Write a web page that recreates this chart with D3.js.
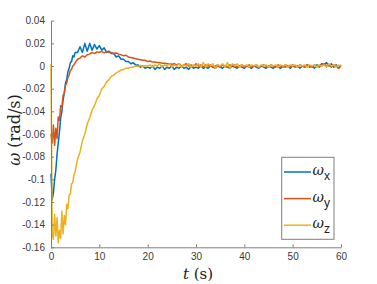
<!DOCTYPE html>
<html>
<head>
<meta charset="utf-8">
<script src="https://cdn.jsdelivr.net/npm/d3@7"></script>
<style>
  body { margin: 0; background: #fff; }
  svg { display: block; }
</style>
</head>
<body>
<div id="chart"></div>
<script>
// sample times: 0.25 s steps for the first 5 s, then 0.5 s steps
const time = d3.range(0, 5, 0.25).concat(d3.range(5, 60.001, 0.5))

const omegaX = [
  -0.095, -0.118, -0.112, -0.100, -0.092, -0.078, -0.068, -0.058, -0.046, -0.040,
  -0.030, -0.024, -0.015, -0.012, -0.005, -0.002, 0.003, 0.004, 0.009, 0.008,
  0.012, 0.012, 0.017, 0.012, 0.020, 0.013, 0.020, 0.014, 0.019, 0.015,
  0.018, 0.014, 0.016, 0.012, 0.013, 0.011, 0.011, 0.008, 0.009, 0.006,
  0.006, 0.004, 0.004, 0.002, 0.003, 0.001, 0.001, -0.001, 0.000, -0.002, -0.001,
  -0.002, 0.000, -0.003, -0.001, -0.002, 0.000, -0.003, -0.001, -0.002, 0.000,
  -0.003, -0.001, -0.002, 0.000, -0.002, -0.001, -0.003, 0.000, -0.002, -0.001,
  -0.002, 0.000, -0.002, -0.001, -0.002, 0.000, -0.001, -0.002, 0.000, -0.001,
  -0.002, 0.000, -0.001, -0.002, 0.000, -0.001, -0.002, 0.000, -0.001, -0.002,
  0.000, -0.001, -0.002, 0.000, -0.001, -0.002, 0.000, -0.001, -0.002, 0.000,
  -0.001, -0.002, 0.000, -0.001, -0.002, 0.000, -0.001, 0.000, -0.002, 0.000,
  -0.001, 0.000, -0.002, 0.000, -0.001, 0.001, -0.001, 0.000, -0.002, 0.001,
  0.000, 0.002, 0.001, 0.003, 0.000, 0.002, -0.001, 0.001, -0.002, 0.000
]

const omegaY = [
  -0.060, -0.068, -0.052, -0.070, -0.055, -0.064, -0.045, -0.048, -0.035, -0.036,
  -0.026, -0.024, -0.017, -0.015, -0.010, -0.008, -0.004, -0.003, 0.000, 0.001,
  0.003, 0.006, 0.007, 0.009, 0.008, 0.010, 0.0105, 0.012, 0.011, 0.0125,
  0.012, 0.013, 0.0115, 0.013, 0.012, 0.012, 0.011, 0.0115, 0.0105, 0.010,
  0.009, 0.0095, 0.008, 0.0075, 0.007, 0.0065, 0.006, 0.0055, 0.005, 0.005, 0.004,
  0.0045, 0.0035, 0.0035, 0.003, 0.003, 0.0025, 0.0025, 0.002, 0.002, 0.0015,
  0.002, 0.001, 0.002, 0.000, 0.001, 0.002, 0.000, 0.001, 0.000, 0.002,
  0.000, 0.001, -0.001, 0.001, 0.000, 0.001, -0.001, 0.000, 0.001, -0.001,
  0.001, 0.000, -0.001, 0.001, 0.000, 0.001, -0.001, 0.000, 0.001, -0.001,
  0.000, 0.001, -0.001, 0.000, 0.001, -0.001, 0.000, 0.001, 0.000, -0.001,
  0.001, 0.000, -0.001, 0.001, 0.000, -0.001, 0.001, 0.000, -0.001, 0.001,
  0.000, -0.001, 0.001, 0.000, -0.001, 0.001, 0.000, -0.001, 0.001, 0.000,
  -0.001, 0.001, 0.002, 0.000, 0.001, -0.001, 0.001, 0.000, -0.002, 0.001
]

const omegaZ = [
  0.002, -0.148, -0.153, -0.131, -0.150, -0.134, -0.156, -0.145, -0.152, -0.128,
  -0.148, -0.132, -0.140, -0.122, -0.126, -0.114, -0.113, -0.104, -0.103, -0.096,
  -0.093, -0.082, -0.076, -0.066, -0.060, -0.051, -0.046, -0.039, -0.035, -0.029,
  -0.026, -0.020, -0.018, -0.014, -0.012, -0.009, -0.008, -0.006, -0.005, -0.0035,
  -0.003, -0.002, -0.002, -0.001, -0.001, 0.000, -0.0005, 0.0005, -0.0005, 0.0005, 0.000,
  0.001, -0.001, 0.001, 0.000, 0.002, -0.001, 0.001, 0.000, 0.002, -0.001,
  0.001, 0.000, 0.002, -0.001, 0.001, 0.000, 0.002, -0.001, 0.001, 0.000,
  0.002, -0.001, 0.003, -0.001, 0.002, 0.000, 0.002, -0.002, 0.001, 0.000,
  0.002, -0.001, 0.003, -0.002, 0.002, 0.000, 0.002, -0.001, 0.001, 0.000,
  0.001, -0.001, 0.001, 0.000, 0.001, -0.001, 0.001, 0.000, 0.001, -0.001,
  0.001, 0.000, 0.001, -0.001, 0.001, 0.000, 0.001, -0.001, 0.001, 0.000,
  0.001, -0.001, 0.001, 0.000, 0.001, -0.001, 0.001, 0.000, 0.001, -0.001,
  0.001, 0.000, 0.001, -0.001, 0.002, 0.000, 0.001, -0.001, 0.001, 0.000
]

const seriesNames = ["x", "y", "z"]
const seriesColors = ["#0072BD", "#D95319", "#EDB120"]
const xTicks = [0, 10, 20, 30, 40, 50, 60]
const yTicks = [0.04, 0.02, 0, -0.02, -0.04, -0.06, -0.08, -0.1, -0.12, -0.14, -0.16]

const width = 377
const height = 284
const margin = { top: 20.7, right: 36, bottom: 36.7, left: 51 }

const svg = d3.select("#chart")
  .append("svg")
  .attr("width", width)
  .attr("height", height)

const x = d3.scaleLinear().domain([0, 60]).range([margin.left, width - margin.right])
const y = d3.scaleLinear().domain([-0.16, 0.04]).range([height - margin.bottom, margin.top])

const axisColor = "#7f7f7f"
const textColor = "#3a3a3a"
const serif = "'DejaVu Serif', 'Liberation Serif', serif"

// lines
const line = d3.line()
  .x((d, i) => x(time[i]))
  .y(d => y(d))

const series = [omegaX, omegaY, omegaZ]
series.forEach((values, k) => {
  svg.append("path")
    .datum(values)
    .attr("fill", "none")
    .attr("stroke", seriesColors[k])
    .attr("stroke-width", 1.5)
    .attr("stroke-linejoin", "round")
    .attr("d", line)
})

// axes
const xAxis = svg.append("g")
  .attr("transform", `translate(0, ${height - margin.bottom})`)
  .call(d3.axisBottom(x).tickValues(xTicks).tickSizeInner(-3).tickSizeOuter(0).tickPadding(6))

const yAxis = svg.append("g")
  .attr("transform", `translate(${margin.left}, 0)`)
  .call(d3.axisLeft(y).tickValues(yTicks).tickSizeInner(-3).tickSizeOuter(0).tickPadding(6)
    .tickFormat(d => d === 0 ? "0" : String(+d.toFixed(2))))

;[xAxis, yAxis].forEach(g => {
  g.select(".domain").attr("stroke", axisColor)
  g.selectAll(".tick line").attr("stroke", axisColor)
  g.selectAll(".tick text")
    .attr("fill", textColor)
    .style("font-family", "'Liberation Sans', Arial, sans-serif")
    .style("font-size", "10px")
})

// axis titles
svg.append("text")
  .attr("x", 198)
  .attr("y", 279)
  .attr("text-anchor", "middle")
  .style("font-family", serif)
  .style("font-size", "15px")
  .attr("fill", "#222")
  .html('<tspan font-style="italic">t</tspan> (s)')

svg.append("text")
  .attr("transform", `translate(20, 130) rotate(-90)`)
  .attr("text-anchor", "middle")
  .style("font-family", serif)
  .style("font-size", "16px")
  .attr("fill", "#222")
  .html('<tspan font-style="italic">ω</tspan> (rad/s)')

// legend
const legend = svg.append("g")
legend.append("rect")
  .attr("x", 281.7)
  .attr("y", 157.3)
  .attr("width", 52.3)
  .attr("height", 82)
  .attr("fill", "#fff")
  .attr("stroke", axisColor)
  .attr("stroke-width", 1)

seriesNames.forEach((name, k) => {
  const ly = 172 + k * 26.6
  legend.append("line")
    .attr("x1", 284).attr("x2", 311)
    .attr("y1", ly).attr("y2", ly)
    .attr("stroke", seriesColors[k])
    .attr("stroke-width", 1.5)
  const t = legend.append("text")
    .attr("x", 312.5)
    .attr("y", ly + 3)
    .attr("fill", "#222")
  t.append("tspan")
    .style("font-family", serif)
    .style("font-style", "italic")
    .style("font-size", "14px")
    .text("ω")
  t.append("tspan")
    .attr("dy", 5)
    .style("font-family", "'Liberation Sans', Arial, sans-serif")
    .style("font-size", "12px")
    .text(name)
})
</script>
</body>
</html>
